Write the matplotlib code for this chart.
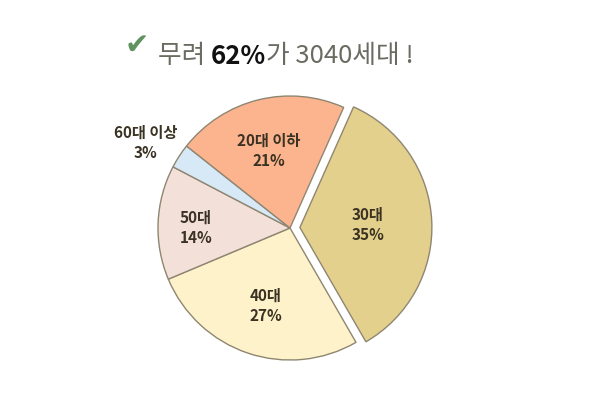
import matplotlib
matplotlib.use("Agg")
import matplotlib.pyplot as plt

plt.rcParams["font.family"] = ["Noto Sans CJK KR", "DejaVu Sans"]

labels = ["30대", "40대", "50대", "60대 이상", "20대 이하"]
shares = [35, 27, 14, 3, 21]
colors = ["#e3d08c", "#fdf2c9", "#f2e0d9", "#d7e9f6", "#fcb48f"]
explode = [0.075, 0, 0, 0, 0]

W, H = 600, 403
cx, cy, r = 290, 228, 132   # pie centre / radius in pixels

fig = plt.figure(figsize=(W / 100, H / 100), dpi=100)
fig.patch.set_facecolor("white")
ax = fig.add_axes([0, 0, 1, 1])

wedges, _ = ax.pie(shares, colors=colors, explode=explode, startangle=66,
                   counterclock=False, radius=1,
                   wedgeprops=dict(edgecolor="#8f8672", linewidth=1.0))
ax.set_xlim(-cx / r, (W - cx) / r)
ax.set_ylim(-(H - cy) / r, cy / r)
ax.set_aspect("equal")
ax.axis("off")

def px(x, y):
    return (x - cx) / r, (cy - y) / r

txt_col = "#3a3222"
label_pos = [(368, 225), (266, 306), (196, 228), (146, 143), (269, 151)]
for lab, val, (x, y) in zip(labels, shares, label_pos):
    ax.text(*px(x, y), f"{lab}\n{val}%", ha="center", va="center",
            fontsize=11, fontweight="bold", color=txt_col, linespacing=1.35)

# title
ax.text(*px(137, 46), "✔", ha="center", va="center", fontsize=21,
        color="#5f925f", family=["DejaVu Sans"])
fig.canvas.draw()
rend = fig.canvas.get_renderer()
parts = [("무려 ", "#6b6b62", "normal"), ("62%", "#111111", "bold"),
         ("가 3040세대 !", "#6b6b62", "normal")]
x0 = 158
for s, c, w in parts:
    t = fig.text(x0 / W, 1 - 56 / H, s, ha="left", va="center",
                 fontsize=18.5, color=c, fontweight=w)
    bb = t.get_window_extent(renderer=rend)
    x0 += bb.width

fig.savefig("out.png", dpi=100, facecolor="white")
